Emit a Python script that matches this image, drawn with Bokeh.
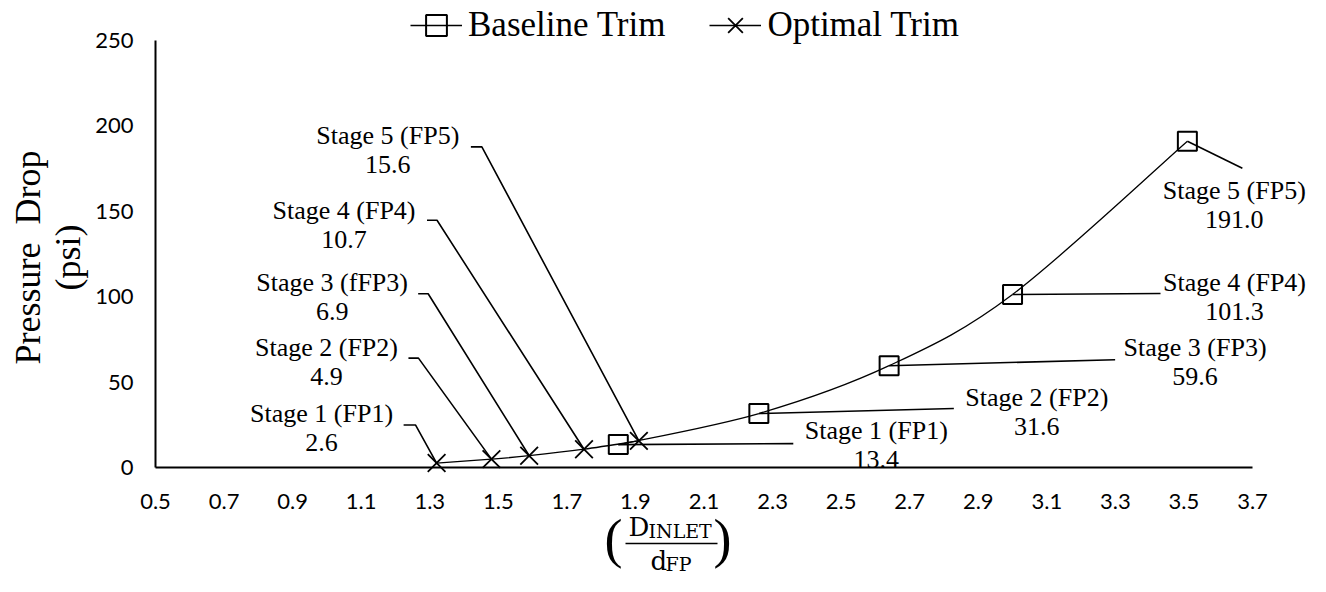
import numpy as np
from bokeh.plotting import figure
from bokeh.models import (Range1d, FixedTicker, NumeralTickFormatter, ColumnDataSource,
                          LabelSet, Label, Legend, LegendItem, Arrow)
from bokeh.core.properties import value
from bokeh.embed import file_html
from bokeh.resources import INLINE

# ---------------- data ----------------
opt_stages = ["Stage 1 (FP1)", "Stage 2 (FP2)", "Stage 3 (fFP3)", "Stage 4 (FP4)", "Stage 5 (FP5)"]
opt_ratio = [1.32, 1.48, 1.59, 1.75, 1.91]
opt_drop = [2.6, 4.9, 6.9, 10.7, 15.6]

base_stages = ["Stage 1 (FP1)", "Stage 2 (FP2)", "Stage 3 (FP3)", "Stage 4 (FP4)", "Stage 5 (FP5)"]
base_ratio = [1.85, 2.26, 2.64, 3.00, 3.51]
base_drop = [13.4, 31.6, 59.6, 101.3, 191.0]

x_ticks = [0.5, 0.7, 0.9, 1.1, 1.3, 1.5, 1.7, 1.9, 2.1, 2.3, 2.5, 2.7, 2.9, 3.1, 3.3, 3.5, 3.7]
y_ticks = [0, 50, 100, 150, 200, 250]

series_names = ["Baseline Trim", "Optimal Trim"]
y_title = ["Pressure\u00a0\u00a0Drop", "(psi)"]

# ---------------- layout / style ----------------
W, H = 1310, 576
AX_L, AX_R, AX_T, AX_B = 155, 1252, 40, 467   # canvas pixels of the axes box
X0, X1 = x_ticks[0], x_ticks[-1]
Y0, Y1 = y_ticks[0], y_ticks[-1]
PX = (AX_R - AX_L) / (X1 - X0)
PY = (AX_B - AX_T) / (Y1 - Y0)

SERIF = "Liberation Serif"
SANS = "Lato"
MATH = "DejaVu Serif"

# label offsets (screen px, y up) relative to the data point
opt_lab_off = [(-115, 50), (-165, 112), (-197, 173), (-240, 239), (-251, 305)]
base_lab_off = [(258, 14), (278, 16), (306, 18), (222, 12), (47, -49)]
LINE_GAP = 29
# leader lines: optimal -> (elbow dx, elbow dy, end dx) ; baseline -> (end dx, end dy)
opt_lead = [(-21, 38, -33), (-73, 101, -83), (-101, 162, -111), (-147, 229, -157), (-157, 294, -168)]
base_lead = [(175, 1), (195, 5), (226, 6), (148, 1), (55, -27)]

p = figure(width=W, height=H, output_backend="svg", toolbar_location=None,
           x_range=Range1d(X0 - AX_L / PX, X0 + (W - AX_L) / PX),
           y_range=Range1d(Y0 - (H - AX_B) / PY, Y1 + AX_T / PY),
           min_border=0)
p.outline_line_color = None
p.xgrid.grid_line_color = None
p.ygrid.grid_line_color = None
p.background_fill_color = "white"
p.border_fill_color = "white"

for ax in (p.xaxis[0], p.yaxis[0]):
    ax.axis_line_color = "black"
    ax.axis_line_width = 2
    ax.major_tick_line_color = None
    ax.minor_tick_line_color = None
    ax.major_tick_out = 0
    ax.major_tick_in = 0
    ax.major_label_text_font = SANS
    ax.major_label_text_font_size = "22px"
    ax.major_label_text_color = "black"

p.xaxis[0].ticker = FixedTicker(ticks=x_ticks)
p.xaxis[0].formatter = NumeralTickFormatter(format="0.0")
p.xaxis[0].major_label_standoff = 26
p.xaxis[0].fixed_location = Y0
p.xaxis[0].bounds = (X0, X1)
p.yaxis[0].ticker = FixedTicker(ticks=y_ticks)
p.yaxis[0].major_label_standoff = 22
p.yaxis[0].fixed_location = X0
p.yaxis[0].bounds = (Y0, Y1)


def smooth(xs, ys):
    xs = np.asarray(xs, float)
    ys = np.asarray(ys, float)
    n = len(xs)
    px = np.concatenate([[xs[0]], xs, [xs[-1]]])
    py = np.concatenate([[ys[0]], ys, [ys[-1]]])
    d = dict(x0=[], y0=[], x1=[], y1=[], cx0=[], cy0=[], cx1=[], cy1=[])
    for i in range(n - 1):
        j = i + 1
        d["x0"].append(px[j]); d["y0"].append(py[j])
        d["x1"].append(px[j + 1]); d["y1"].append(py[j + 1])
        d["cx0"].append(px[j] + (px[j + 1] - px[j - 1]) / 6)
        d["cy0"].append(py[j] + (py[j + 1] - py[j - 1]) / 6)
        d["cx1"].append(px[j + 1] - (px[j + 2] - px[j]) / 6)
        d["cy1"].append(py[j + 1] - (py[j + 2] - py[j]) / 6)
    return ColumnDataSource(d)


base_curve = p.bezier(x0="x0", y0="y0", x1="x1", y1="y1", cx0="cx0", cy0="cy0", cx1="cx1", cy1="cy1",
                      source=smooth(base_ratio, base_drop), line_color="black", line_width=1.3)
opt_curve = p.bezier(x0="x0", y0="y0", x1="x1", y1="y1", cx0="cx0", cy0="cy0", cx1="cx1", cy1="cy1",
                     source=smooth(opt_ratio, opt_drop), line_color="black", line_width=1.3)

# leader lines
lx, ly = [], []
for (x, y), (ex, ey, hx) in zip(zip(opt_ratio, opt_drop), opt_lead):
    lx.append([x, x + ex / PX, x + hx / PX])
    ly.append([y, y + ey / PY, y + ey / PY])
for (x, y), (ex, ey) in zip(zip(base_ratio, base_drop), base_lead):
    lx.append([x, x + ex / PX])
    ly.append([y, y + ey / PY])
p.multi_line(xs=lx, ys=ly, line_color="black", line_width=1.6)

base_pts = p.scatter(base_ratio, base_drop, marker="square", size=19, fill_color="white",
                     fill_alpha=0, line_color="black", line_width=2)
opt_pts = p.scatter(opt_ratio, opt_drop, marker="x", size=25, line_color="black", line_width=1.8)


# data labels
def add_labels(xs, ys, names, vals, offs):
    src = ColumnDataSource(dict(
        x=xs, y=ys, name=names, val=[f"{v:.1f}" for v in vals],
        dx=[o[0] for o in offs], dy=[o[1] for o in offs],
        dy2=[o[1] - LINE_GAP for o in offs]))
    common = dict(source=src, x="x", y="y", x_offset="dx", text_align="center",
                  text_baseline="middle", text_font=value(SERIF), text_font_size="26px",
                  text_color="black")
    p.add_layout(LabelSet(text="name", y_offset="dy", **common))
    p.add_layout(LabelSet(text="val", y_offset="dy2", **common))


add_labels(opt_ratio, opt_drop, opt_stages, opt_drop, opt_lab_off)
add_labels(base_ratio, base_drop, base_stages, base_drop, base_lab_off)

# legend (screen position measured from canvas bottom-left)
legend = Legend(items=[LegendItem(label=series_names[0], renderers=[base_curve, base_pts]),
                       LegendItem(label=series_names[1], renderers=[opt_curve, opt_pts])],
                orientation="horizontal", location=(410, H - 51),
                label_text_font=SERIF, label_text_font_size="35px", label_text_color="black",
                glyph_width=52, glyph_height=52, label_standoff=6, spacing=44,
                padding=0, margin=0, border_line_color=None, background_fill_alpha=0)
p.add_layout(legend)


def lab(x, y, t, size, font, align="center", base="middle", angle=0.0):
    # x, y given in canvas pixels from the top-left corner
    p.add_layout(Label(x=x, y=H - y, x_units="screen", y_units="screen", text=t, angle=angle,
                       text_align=align, text_baseline=base, text_font=font,
                       text_font_size=size, text_color="black"))


# y axis title (two lines, rotated)
lab(27, 257, y_title[0], "36px", SERIF, angle=np.pi / 2)
lab(67, 257, y_title[1], "36px", SERIF, angle=np.pi / 2)

# x axis title: (D_INLET / d_FP)
lab(613, 538, "(", "54px", SERIF)
lab(722, 538, ")", "54px", SERIF)
lab(628, 526, "D", "26px", MATH, align="left", base="alphabetic")
lab(648, 530, "INLET", "19px", MATH, align="left", base="alphabetic")
lab(650, 560, "d", "26px", MATH, align="left", base="alphabetic")
lab(665, 563, "FP", "19px", MATH, align="left", base="alphabetic")
p.add_layout(Arrow(start=None, end=None, x_start=625, y_start=H - 543, x_end=717, y_end=H - 543,
                   start_units="screen", end_units="screen", line_color="black", line_width=1.5))

open("out.html", "w").write(file_html(p, INLINE))
